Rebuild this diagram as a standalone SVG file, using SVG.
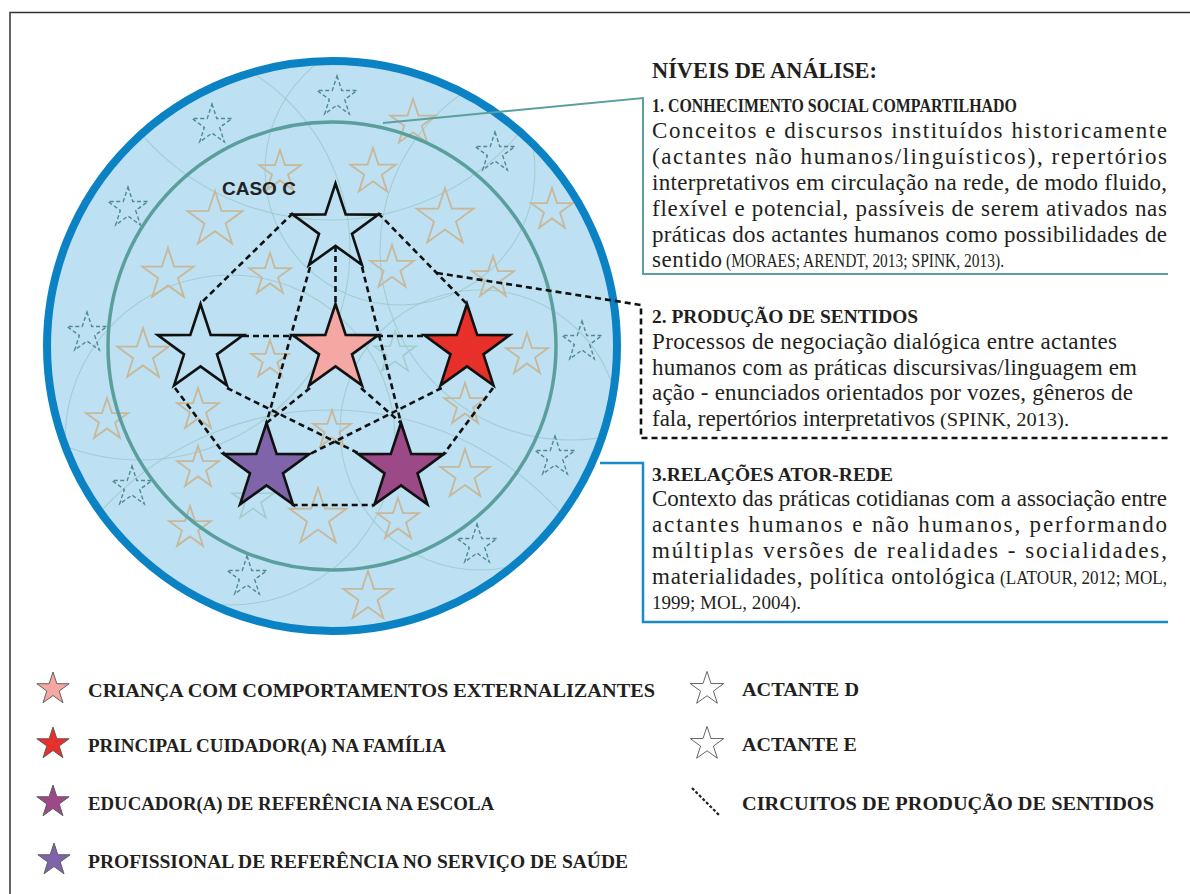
<svg xmlns="http://www.w3.org/2000/svg" xmlns:xlink="http://www.w3.org/1999/xlink" width="1190" height="894" viewBox="0 0 1190 894">
<style>
.frame{fill:none;stroke:#333;stroke-width:1.5}
.tan{fill:none;stroke:#c8b899;stroke-width:1.8}
.tdash{fill:none;stroke:#4f8a8c;stroke-width:1.4;stroke-dasharray:4 2.5}
.faint{fill:none;stroke:#a3cdcd;stroke-width:1.6}
.arc{fill:none;stroke:#98c6c3;stroke-width:1.1;opacity:0.7}
.main{stroke:#111;stroke-width:2.6;stroke-linejoin:miter}
.dash{fill:none;stroke:#111;stroke-width:2.6;stroke-dasharray:6 4}
.lg{stroke:#555;stroke-width:0.9}
.hd{font-family:"Liberation Serif","Times New Roman",serif;font-weight:bold;fill:#231f20}
.bd{font-family:"Liberation Serif","Times New Roman",serif;fill:#231f20;font-size:23px}
.ct{font-family:"Liberation Serif","Times New Roman",serif;fill:#231f20;font-size:19px}
.caso{font-family:"Liberation Sans",Arial,sans-serif;font-weight:bold;font-size:19px;fill:#222}
</style>
<defs>
<path id="s" d="M0,-20L4.53,-6.23L19.02,-6.18L7.32,2.38L11.76,16.18L0,7.7L-11.76,16.18L-7.32,2.38L-19.02,-6.18L-4.53,-6.23Z" vector-effect="non-scaling-stroke"/>
<path id="big" d="M0,-45L10.18,-14.02L42.8,-13.9L16.48,5.36L26.45,36.4L0,17.33L-26.45,36.4L-16.48,5.36L-42.8,-13.9L-10.18,-14.02Z"/>
<clipPath id="disk"><circle cx="332" cy="346" r="285"/></clipPath>
</defs>

<rect class="frame" x="10" y="12.5" width="1200" height="900"/>

<g id="disk-bg">
<circle cx="332" cy="346" r="285" fill="#bde0f3"/>
<g clip-path="url(#disk)">
<circle class="arc" cx="400" cy="170" r="135"/>
<circle class="arc" cx="230" cy="440" r="165"/>
<circle class="arc" cx="480" cy="430" r="140"/>
<circle class="arc" cx="140" cy="250" r="210"/>
<circle class="arc" cx="570" cy="250" r="190"/>
<circle class="arc" cx="330" cy="720" r="310"/>
<circle class="arc" cx="330" cy="-30" r="250"/>
</g>
</g>

<g id="bg-stars">
<g class="tan">
<use href="#s" transform="translate(280,172) scale(1.1)"/>
<use href="#s" transform="translate(413,123) scale(1.2)"/>
<use href="#s" transform="translate(373,172) scale(1.2)"/>
<use href="#s" transform="translate(445,218) scale(1.5)"/>
<use href="#s" transform="translate(552,210) scale(1.1)"/>
<use href="#s" transform="translate(215,220) scale(1.45)"/>
<use href="#s" transform="translate(168,275) scale(1.35)"/>
<use href="#s" transform="translate(270,275) scale(1.1)"/>
<use href="#s" transform="translate(392,268) scale(1.15)"/>
<use href="#s" transform="translate(493,278) scale(1.1)"/>
<use href="#s" transform="translate(527,355) scale(1.1)"/>
<use href="#s" transform="translate(143,355) scale(1.35)"/>
<use href="#s" transform="translate(270,360) scale(1.0)"/>
<use href="#s" transform="translate(107,420) scale(1.1)"/>
<use href="#s" transform="translate(198,410) scale(1.1)"/>
<use href="#s" transform="translate(198,468) scale(1.1)"/>
<use href="#s" transform="translate(332,430) scale(1.0)"/>
<use href="#s" transform="translate(465,405) scale(1.1)"/>
<use href="#s" transform="translate(465,475) scale(1.3)"/>
<use href="#s" transform="translate(318,518) scale(1.5)"/>
<use href="#s" transform="translate(398,520) scale(1.1)"/>
<use href="#s" transform="translate(190,528) scale(1.1)"/>
<use href="#s" transform="translate(368,597) scale(1.3)"/>
</g>
<g class="faint">
<use href="#s" transform="translate(395,353) scale(1.1)"/>
<use href="#s" transform="translate(253,500) scale(1.1)"/>
</g>
<g class="tdash">
<use href="#s" transform="translate(212,125) scale(1.05)"/>
<use href="#s" transform="translate(128,208) scale(1.05)"/>
<use href="#s" transform="translate(87,333) scale(1.05)"/>
<use href="#s" transform="translate(337,97) scale(1.05)"/>
<use href="#s" transform="translate(495,153) scale(1.05)"/>
<use href="#s" transform="translate(582,342) scale(1.05)"/>
<use href="#s" transform="translate(132,487) scale(1.05)"/>
<use href="#s" transform="translate(247,577) scale(1.05)"/>
<use href="#s" transform="translate(555,457) scale(1.05)"/>
<use href="#s" transform="translate(477,545) scale(1.05)"/>
</g>
</g>

<g id="rings">
<circle cx="332" cy="346" r="224" fill="none" stroke="#5b9f9c" stroke-width="3.5"/>
<circle cx="332" cy="346" r="285" fill="none" stroke="#0b82c3" stroke-width="8"/>
</g>

<g id="connectors">
<path class="dash" d="M293,213L201,303"/>
<path class="dash" d="M378,213L467,304"/>
<path class="dash" d="M335.5,246L335.5,305"/>
<path class="dash" d="M310,267L266.5,423"/>
<path class="dash" d="M362,267L401,423"/>
<path class="dash" d="M243,336L297,336"/>
<path class="dash" d="M377,336L428,336"/>
<path class="dash" d="M175,388L225,455"/>
<path class="dash" d="M227,388L362,455"/>
<path class="dash" d="M441.7,388L308,455"/>
<path class="dash" d="M493,388L443,455"/>
<path class="dash" d="M291.7,505L375,505"/>
<path class="dash" d="M310,388L266.5,423"/>
<path class="dash" d="M361,388L401,423"/>
<path class="dash" d="M437,273L641,305L641,438L1168,438" stroke-width="2.2"/>
<path d="M383,123L643,98L643,274L1168,274" fill="none" stroke="#5ba09c" stroke-width="2"/>
<path d="M600,463L643,463L643,622L1168,622" fill="none" stroke="#1a8bc9" stroke-width="2.5"/>
</g>

<g id="n-top"><use href="#big" class="main" fill="none" transform="translate(335.5,228.5)"/></g>
<g id="n-left"><use href="#big" class="main" fill="none" transform="translate(200.5,349)"/></g>
<g id="n-pink"><use href="#big" class="main" fill="#f4a7a3" transform="translate(335.5,349)"/></g>
<g id="n-red"><use href="#big" class="main" fill="#e8302b" transform="translate(467,349)"/></g>
<g id="n-purple"><use href="#big" class="main" fill="#7f64aa" transform="translate(266.5,468)"/></g>
<g id="n-magenta"><use href="#big" class="main" fill="#9c4a87" transform="translate(401,468)"/></g>

<g id="caso"><text class="caso" x="222" y="195">CASO C</text></g>

<g id="title"><text class="hd" x="652" y="78" font-size="22.5" textLength="225" lengthAdjust="spacingAndGlyphs">NÍVEIS DE ANÁLISE:</text></g>

<g id="box1">
<text class="hd" x="652" y="112" font-size="18" textLength="365" lengthAdjust="spacingAndGlyphs">1. CONHECIMENTO SOCIAL COMPARTILHADO</text>
<text class="bd" x="652" y="138" textLength="515" lengthAdjust="spacing">Conceitos e discursos instituídos historicamente</text>
<text class="bd" x="652" y="164" textLength="515" lengthAdjust="spacing">(actantes não humanos/linguísticos), repertórios</text>
<text class="bd" x="652" y="190" textLength="515" lengthAdjust="spacing">interpretativos em circulação na rede, de modo fluido,</text>
<text class="bd" x="652" y="216" textLength="515" lengthAdjust="spacing">flexível e potencial, passíveis de serem ativados nas</text>
<text class="bd" x="652" y="242" textLength="515" lengthAdjust="spacing">práticas dos actantes humanos como possibilidades de</text>
<text class="bd" x="652" y="267" textLength="70" lengthAdjust="spacing">sentido</text>
<text class="ct" x="726" y="267" textLength="278" lengthAdjust="spacingAndGlyphs">(MORAES; ARENDT, 2013; SPINK, 2013).</text>
</g>

<g id="box2">
<text class="hd" x="652" y="323" font-size="18" textLength="266" lengthAdjust="spacingAndGlyphs">2. PRODUÇÃO DE SENTIDOS</text>
<text class="bd" x="652" y="349" textLength="465" lengthAdjust="spacing">Processos de negociação dialógica entre actantes</text>
<text class="bd" x="652" y="375" textLength="485" lengthAdjust="spacing">humanos com as práticas discursivas/linguagem em</text>
<text class="bd" x="652" y="400" textLength="481" lengthAdjust="spacing">ação - enunciados orientados por vozes, gêneros de</text>
<text class="bd" x="652" y="426" textLength="283" lengthAdjust="spacing">fala, repertórios interpretativos</text>
<text class="ct" x="940" y="426" textLength="129" lengthAdjust="spacingAndGlyphs">(SPINK, 2013).</text>
</g>

<g id="box3">
<text class="hd" x="652" y="481" font-size="18" textLength="241" lengthAdjust="spacingAndGlyphs">3.RELAÇÕES ATOR-REDE</text>
<text class="bd" x="652" y="506" textLength="515" lengthAdjust="spacing">Contexto das práticas cotidianas com a associação entre</text>
<text class="bd" x="652" y="532" textLength="515" lengthAdjust="spacing">actantes humanos e não humanos, performando</text>
<text class="bd" x="652" y="558" textLength="515" lengthAdjust="spacing">múltiplas versões de realidades - socialidades,</text>
<text class="bd" x="652" y="584" textLength="343" lengthAdjust="spacing">materialidades, política ontológica</text>
<text class="ct" x="1000" y="584" textLength="167" lengthAdjust="spacingAndGlyphs">(LATOUR, 2012; MOL,</text>
<text class="ct" x="652" y="609" textLength="149" lengthAdjust="spacingAndGlyphs">1999; MOL, 2004).</text>
</g>

<g id="legend">
<g id="lg-pink"><use href="#s" class="lg" fill="#f4a7a3" transform="translate(53,689) scale(0.85)"/>
<text class="hd" x="88" y="697" font-size="19.5" textLength="567" lengthAdjust="spacingAndGlyphs">CRIANÇA COM COMPORTAMENTOS EXTERNALIZANTES</text></g>
<g id="lg-red"><use href="#s" class="lg" fill="#e8302b" transform="translate(53,744) scale(0.85)"/>
<text class="hd" x="88" y="752" font-size="19.5" textLength="358" lengthAdjust="spacingAndGlyphs">PRINCIPAL CUIDADOR(A) NA FAMÍLIA</text></g>
<g id="lg-magenta"><use href="#s" class="lg" fill="#9c4a87" transform="translate(53,802) scale(0.85)"/>
<text class="hd" x="88" y="810" font-size="19.5" textLength="406" lengthAdjust="spacingAndGlyphs">EDUCADOR(A) DE REFERÊNCIA NA ESCOLA</text></g>
<g id="lg-purple"><use href="#s" class="lg" fill="#7f64aa" transform="translate(54,860) scale(0.85)"/>
<text class="hd" x="88" y="868" font-size="19.5" textLength="540" lengthAdjust="spacingAndGlyphs">PROFISSIONAL DE REFERÊNCIA NO SERVIÇO DE SAÚDE</text></g>
<g id="lg-d"><use href="#s" class="lg" fill="#fff" transform="translate(707,689) scale(0.88)"/>
<text class="hd" x="742" y="696" font-size="19.5" textLength="117" lengthAdjust="spacingAndGlyphs">ACTANTE D</text></g>
<g id="lg-e"><use href="#s" class="lg" fill="#fff" transform="translate(707,744) scale(0.88)"/>
<text class="hd" x="742" y="751" font-size="19.5" textLength="115" lengthAdjust="spacingAndGlyphs">ACTANTE E</text></g>
<g id="lg-circ"><path d="M692,788L720,816" fill="none" stroke="#222" stroke-width="2.2" stroke-dasharray="3 2"/>
<text class="hd" x="742" y="810" font-size="19.5" textLength="412" lengthAdjust="spacingAndGlyphs">CIRCUITOS DE PRODUÇÃO DE SENTIDOS</text></g>
</g>
</svg>
